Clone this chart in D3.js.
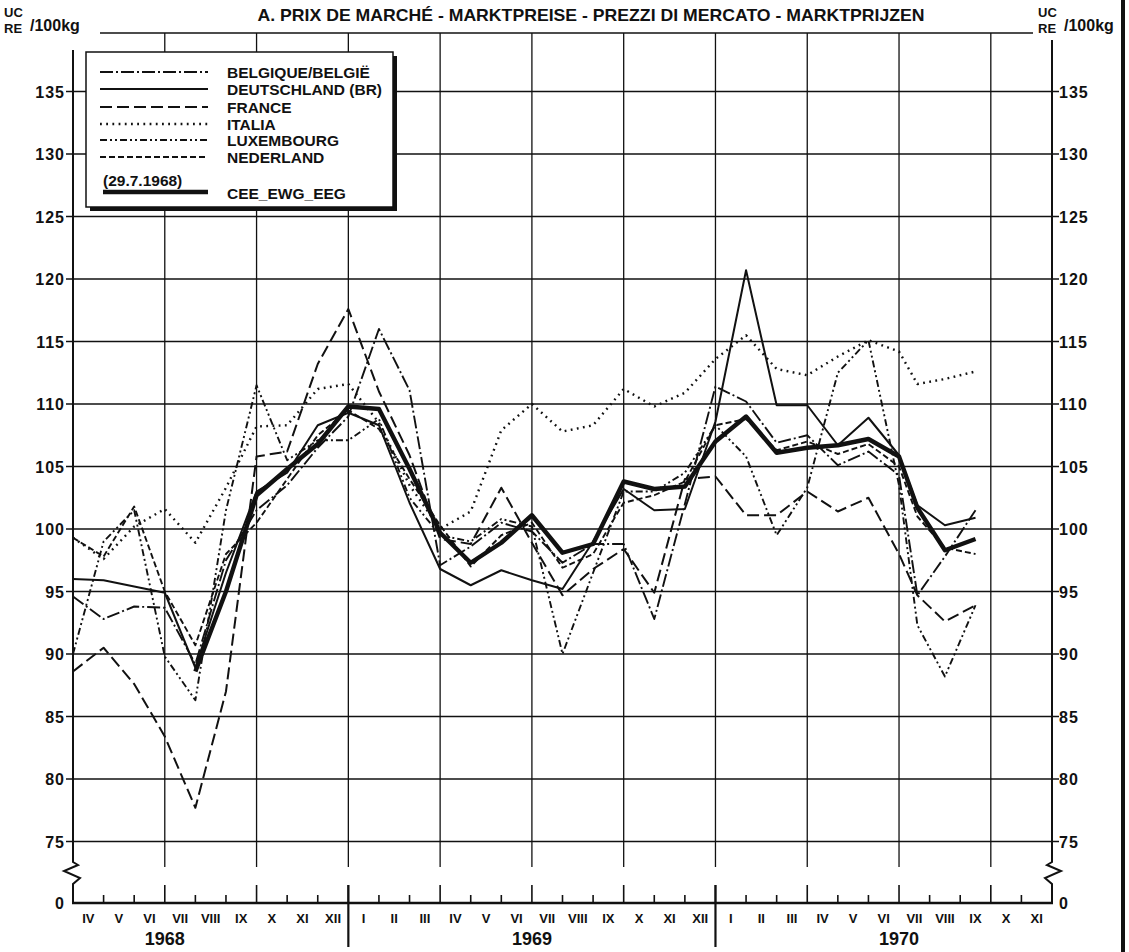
<!DOCTYPE html>
<html lang="fr">
<head>
<meta charset="utf-8">
<title>Prix de marché</title>
<script src="https://cdn.jsdelivr.net/npm/d3@7"></script>
<style>
  body { margin: 0; background: #fff; }
  svg { display: block; }
  text { font-family: "Liberation Sans", Arial, sans-serif; font-weight: bold; fill: #111; }
  .grid line { stroke: #111; stroke-width: 1.3; }
  .serie { fill: none; stroke: #111; stroke-linejoin: round; }
</style>
</head>
<body>
<svg width="1129" height="952"></svg>
<script>
// dates of the points (month starts, the last three are mid-month)
const dates = [
  "1968-04-01","1968-05-01","1968-06-01","1968-07-01","1968-08-01","1968-09-01","1968-10-01","1968-11-01","1968-12-01",
  "1969-01-01","1969-02-01","1969-03-01","1969-04-01","1969-05-01","1969-06-01","1969-07-01","1969-08-01","1969-09-01",
  "1969-10-01","1969-11-01","1969-12-01",
  "1970-01-01","1970-02-01","1970-03-01","1970-04-01","1970-05-01","1970-06-01","1970-07-01",
  "1970-07-19","1970-08-16","1970-09-16"
];

// UC/100kg
const belgique = [94.6, 92.8, 93.8, 93.7, 89.2, 97.5, 101.5, 103.5, 106.5,
  109.0, 116.0, 111.1, 97.1, 98.6, 100.5, 99.8, 97.3, 98.8, 98.8, 92.8, 102.0,
  111.4, 110.2, 106.9, 107.5, 105.1, 106.2, 104.3, 94.7, 97.8, 101.5];
const deutschland = [96.0, 95.9, 95.4, 94.9, 88.9, 96.5, 103.0, 104.5, 108.3,
  109.3, 108.3, 102.1, 96.8, 95.5, 96.7, 95.9, 95.2, 99.0, 103.2, 101.5, 101.6,
  108.6, 120.7, 109.9, 109.9, 106.7, 108.9, 105.9, 101.9, 100.3, 100.9];
const france = [88.6, 90.5, 87.6, 83.4, 77.7, 87.0, 105.8, 106.2, 113.2,
  117.6, 111.0, 105.9, 99.2, 98.8, 103.3, 98.9, 94.7, 96.8, 98.4, 94.9, 104.0,
  104.2, 101.1, 101.1, 103.0, 101.4, 102.5, 98.0, 94.7, 92.6, 93.9];
const italia = [99.3, 97.6, 100.2, 101.6, 98.9, 103.3, 108.2, 108.3, 111.2,
  111.6, 108.5, 103.5, 100.0, 101.4, 107.9, 110.0, 107.8, 108.3, 111.2, 109.8, 110.9,
  113.6, 115.5, 112.8, 112.3, 113.8, 115.1, 114.2, 111.6, 112.0, 112.6];
const luxembourg = [90.0, 99.0, 101.5, 89.8, 86.3, 101.5, 111.5, 105.5, 107.1,
  107.1, 108.8, 102.5, 99.5, 99.0, 100.8, 100.2, 90.0, 96.5, 103.0, 103.0, 104.5,
  108.3, 105.8, 99.5, 103.3, 112.5, 115.1, 103.5, 92.3, 88.2, 93.9];
const nederland = [99.3, 97.8, 101.8, 95.0, 90.7, 98.0, 100.5, 104.0, 107.5,
  109.5, 108.0, 104.0, 100.3, 97.0, 99.5, 100.5, 96.9, 98.0, 102.1, 102.7, 103.8,
  108.3, 108.8, 106.3, 107.0, 106.0, 106.8, 105.0, 101.0, 98.5, 98.0];
const cee = [null, null, null, null, 88.6, 95.0, 102.7, 104.8, 106.8,
  109.8, 109.6, 104.8, 99.7, 97.3, 98.9, 101.1, 98.1, 98.8, 103.8, 103.2, 103.4,
  107.0, 109.0, 106.1, 106.5, 106.7, 107.2, 105.8, 101.7, 98.3, 99.2];

const seriesNames = ["BELGIQUE/BELGIË", "DEUTSCHLAND (BR)", "FRANCE", "ITALIA", "LUXEMBOURG", "NEDERLAND", "CEE_EWG_EEG"];
const seriesValues = [belgique, deutschland, france, italia, luxembourg, nederland, cee];
const dashes = ["13 3 2 3", null, "12 5", "1.8 4.4", "7 3 2 3 2 3", "6 3", null];
const widths = [1.9, 2, 2, 2.4, 1.9, 1.9, 4.4];

const monthLabels = ["IV","V","VI","VII","VIII","IX","X","XI","XII",
  "I","II","III","IV","V","VI","VII","VIII","IX","X","XI","XII",
  "I","II","III","IV","V","VI","VII","VIII","IX","X","XI"];
const years = ["1968", "1969", "1970"];
const yearMid = ["1968-07-01", "1969-07-01", "1970-07-01"];
const yearBreaks = ["1969-01-01", "1970-01-01"];
const yTicks = d3.range(75, 136, 5);

function monthIndex(s) {
  const [y, m, d] = s.split("-").map(Number);
  return (y - 1968) * 12 + (m - 4) + (d - 1) / 30;
}

const svg = d3.select("svg");
const x = d3.scaleLinear().domain([0, 32]).range([73, 1052]);
const y = d3.scaleLinear().domain([75, 135]).range([841.5, 91.5]);
const yZero = 903, gridBottom = 867, breakTop = 885, topLine = 33;

// grid
const grid = svg.append("g").attr("class", "grid");
grid.selectAll(".h").data(yTicks).enter().append("line")
  .attr("x1", x(0)).attr("x2", x(32)).attr("y1", d => y(d)).attr("y2", d => y(d));
grid.selectAll(".v").data(d3.range(3, 31, 3)).enter().append("line")
  .attr("x1", d => x(d)).attr("x2", d => x(d)).attr("y1", topLine).attr("y2", gridBottom);
grid.append("line").attr("x1", 100).attr("x2", 1033).attr("y1", topLine).attr("y2", topLine);

// axes with break
const ax = svg.append("g").attr("fill", "none").attr("stroke", "#111");
ax.append("path").attr("stroke-width", 2)
  .attr("d", `M${x(0)},50 V862 l5,3 l-14,6 l16,7 l-7,6 V${yZero}`);
ax.append("path").attr("stroke-width", 2)
  .attr("d", `M${x(32)},40 V862 l-5,3 l14,6 l-16,7 l7,6 V${yZero}`);
ax.append("line").attr("stroke-width", 2.5)
  .attr("x1", x(0) - 1).attr("x2", x(32) + 1).attr("y1", yZero).attr("y2", yZero);
// month ticks
ax.selectAll(".mt").data(d3.range(1, 32)).enter().append("line")
  .attr("stroke-width", 1.6)
  .attr("x1", d => x(d)).attr("x2", d => x(d))
  .attr("y1", d => d % 3 === 0 ? breakTop : 895).attr("y2", yZero);
ax.selectAll(".yb").data(yearBreaks).enter().append("line")
  .attr("stroke-width", 2.2)
  .attr("x1", d => x(monthIndex(d))).attr("x2", d => x(monthIndex(d)))
  .attr("y1", breakTop).attr("y2", 947);
// value ticks
ax.selectAll(".lt").data(yTicks).enter().append("line").attr("stroke-width", 1.5)
  .attr("x1", x(0) - 7).attr("x2", x(0)).attr("y1", d => y(d)).attr("y2", d => y(d));
ax.selectAll(".rt").data(yTicks).enter().append("line").attr("stroke-width", 1.5)
  .attr("x1", x(32)).attr("x2", x(32) + 7).attr("y1", d => y(d)).attr("y2", d => y(d));

// tick labels
const tl = svg.append("g").style("font-size", "16px").style("letter-spacing", "1px");
tl.selectAll(".l").data(yTicks.concat([0])).enter().append("text")
  .attr("x", x(0) - 8).attr("y", d => (d === 0 ? yZero : y(d)) + 6).attr("text-anchor", "end")
  .text(d => d);
tl.selectAll(".r").data(yTicks.concat([0])).enter().append("text")
  .attr("x", x(32) + 7).attr("y", d => (d === 0 ? yZero : y(d)) + 6)
  .text(d => d);

svg.append("g").style("font-size", "13px").selectAll("text").data(monthLabels).enter().append("text")
  .attr("x", (d, i) => x(i + 0.5)).attr("y", 923).attr("text-anchor", "middle").text(d => d);
svg.append("g").style("font-size", "18px").selectAll("text").data(years).enter().append("text")
  .attr("x", (d, i) => x(monthIndex(yearMid[i]))).attr("y", 945).attr("text-anchor", "middle").text(d => d);

// series
const line = d3.line().defined(d => d[1] != null)
  .x(d => x(monthIndex(d[0]))).y(d => y(d[1]));
svg.append("g").selectAll("path").data(seriesValues).enter().append("path")
  .attr("class", "serie")
  .attr("stroke-width", (d, i) => widths[i])
  .attr("stroke-dasharray", (d, i) => dashes[i])
  .attr("d", vals => line(vals.map((v, j) => [dates[j], v])));

// legend
const lg = svg.append("g");
lg.append("rect").attr("x", 90).attr("y", 56).attr("width", 307).attr("height", 155).attr("fill", "#111");
lg.append("rect").attr("x", 86).attr("y", 52).attr("width", 307).attr("height", 155)
  .attr("fill", "#fff").attr("stroke", "#111").attr("stroke-width", 1.5);
const rowY = [72, 89, 107, 124, 140, 157, 192];
seriesNames.forEach((name, i) => {
  lg.append("line").attr("class", "serie")
    .attr("x1", i === 6 ? 103 : 100).attr("x2", 208).attr("y1", rowY[i]).attr("y2", rowY[i])
    .attr("stroke-width", widths[i]).attr("stroke-dasharray", dashes[i]);
  lg.append("text").attr("x", 227).attr("y", rowY[i] + (i === 6 ? 7 : 6))
    .style("font-size", "15.5px").text(name);
});
lg.append("text").attr("x", 103).attr("y", 186).style("font-size", "15.5px").text("(29.7.1968)");

// title and units
svg.append("text").attr("x", 591).attr("y", 21).attr("text-anchor", "middle")
  .attr("textLength", 667).attr("lengthAdjust", "spacingAndGlyphs")
  .style("font-size", "16.5px").text("A. PRIX DE MARCHÉ - MARKTPREISE - PREZZI DI MERCATO - MARKTPRIJZEN");
function unit(x0) {
  svg.append("text").attr("x", x0).attr("y", 17).style("font-size", "13px").text("UC");
  svg.append("text").attr("x", x0).attr("y", 33).style("font-size", "13px").text("RE");
  svg.append("text").attr("x", x0 + 26).attr("y", 31).style("font-size", "16px").text("/100kg");
}
unit(4);
unit(1038);

// scan border on the right
svg.append("rect").attr("x", 1121).attr("y", 0).attr("width", 4).attr("height", 952).attr("fill", "#111");
</script>
</body>
</html>
